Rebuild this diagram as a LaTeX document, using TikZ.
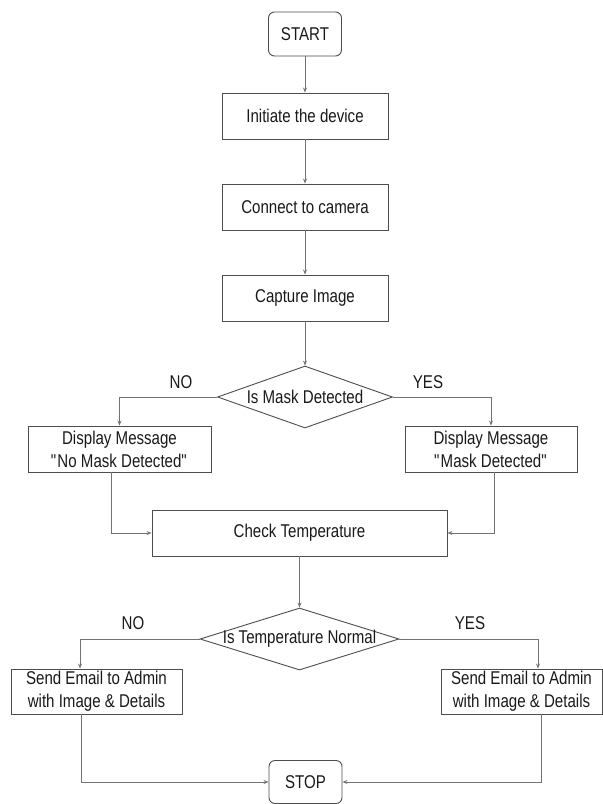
\documentclass[tikz,border=0pt]{standalone}
\usepackage{fontspec}
\setmainfont[FakeStretch=0.815]{Liberation Sans}
\usepackage{tikz}
\usetikzlibrary{arrows.meta, positioning, shapes.geometric}
\definecolor{boxline}{RGB}{77, 77, 77}
\definecolor{flowline}{RGB}{115, 115, 115}
\definecolor{boxtext}{RGB}{25, 25, 25}

\begin{document}
\begin{tikzpicture}[
    x=1pt, y=-1pt,
    >={Stealth[length=5pt, width=4pt]},
    line width=0.9pt,
    font=\fontsize{18.5}{23}\selectfont,
    every node/.style={text=boxtext},
    terminal/.style={draw=boxline, rounded corners=6pt, minimum width=73pt, minimum height=44pt, inner sep=0pt},
    process/.style={draw=boxline, minimum height=46pt, inner sep=0pt, align=center},
    decision/.style={draw=boxline, diamond, inner sep=0pt},
    flow/.style={->, draw=flowline},
]
    \useasboundingbox (0,0) rectangle (603,804);

    % --- TOP: straight chain ---
    \node[terminal] (start) at (305, 34) {START};
    \node[process, minimum width=166pt] (init) at (305, 116) {Initiate the device};
    \node[process, minimum width=166pt] (conn) at (305, 207) {Connect to camera};
    \node[process, minimum width=166pt] (capt) at (305, 298) {Capture Image};
    \draw[flow] (start.south) -- (init.north);
    \draw[flow] (init.south) -- (conn.north);
    \draw[flow] (conn.south) -- (capt.north);

    % --- MIDDLE: mask check ---
    \node[decision, minimum width=175pt, minimum height=62pt] (mask) at (305, 397) {};
    \node (masktext) at (mask) {Is Mask Detected};
    \node (maskno) at (181, 382) {NO};
    \node (maskyes) at (428, 382) {YES};
    \node[process, minimum width=183pt] (nomask) at (119.5, 449) {Display Message\\\textquotedbl No Mask Detected\textquotedbl};
    \node[process, minimum width=172pt] (yesmask) at (491, 449) {Display Message\\\textquotedbl Mask Detected\textquotedbl};
    \node[process, minimum width=295pt] (check) at (299.5, 533) {Check Temperature};
    \draw[flow] (capt.south) -- (mask.north);
    \draw[flow] (mask.west) -| (nomask.north);
    \draw[flow] (mask.east) -| (yesmask.north);
    \draw[flow] ([xshift=-8.5pt]nomask.south) |- (check.west);
    \draw[flow] ([xshift=3pt]yesmask.south) |- (check.east);

    % --- BOTTOM: temperature check ---
    \node[decision, minimum width=199pt, minimum height=62pt] (temp) at (299.5, 639) {};
    \node (temptext) at (temp) {Is Temperature Normal};
    \node (tempno) at (133, 623) {NO};
    \node (tempyes) at (470, 623) {YES};
    \node[process, minimum width=171pt, minimum height=45pt] (mailno) at (96.5, 691.5) {Send Email to Admin\\with Image \& Details};
    \node[process, minimum width=161pt, minimum height=45pt] (mailyes) at (521.5, 691.5) {Send Email to Admin\\with Image \& Details};
    \node[terminal, minimum height=43pt] (stop) at (305.5, 782) {STOP};
    \draw[flow] (check.south) -- (temp.north);
    \draw[flow] (temp.west) -| ([xshift=-16.5pt]mailno.north);
    \draw[flow] (temp.east) -| ([xshift=16.5pt]mailyes.north);
    \draw[flow] ([xshift=-15.5pt]mailno.south) |- (stop.west);
    \draw[flow] ([xshift=19.5pt]mailyes.south) |- (stop.east);
\end{tikzpicture}
\end{document}
